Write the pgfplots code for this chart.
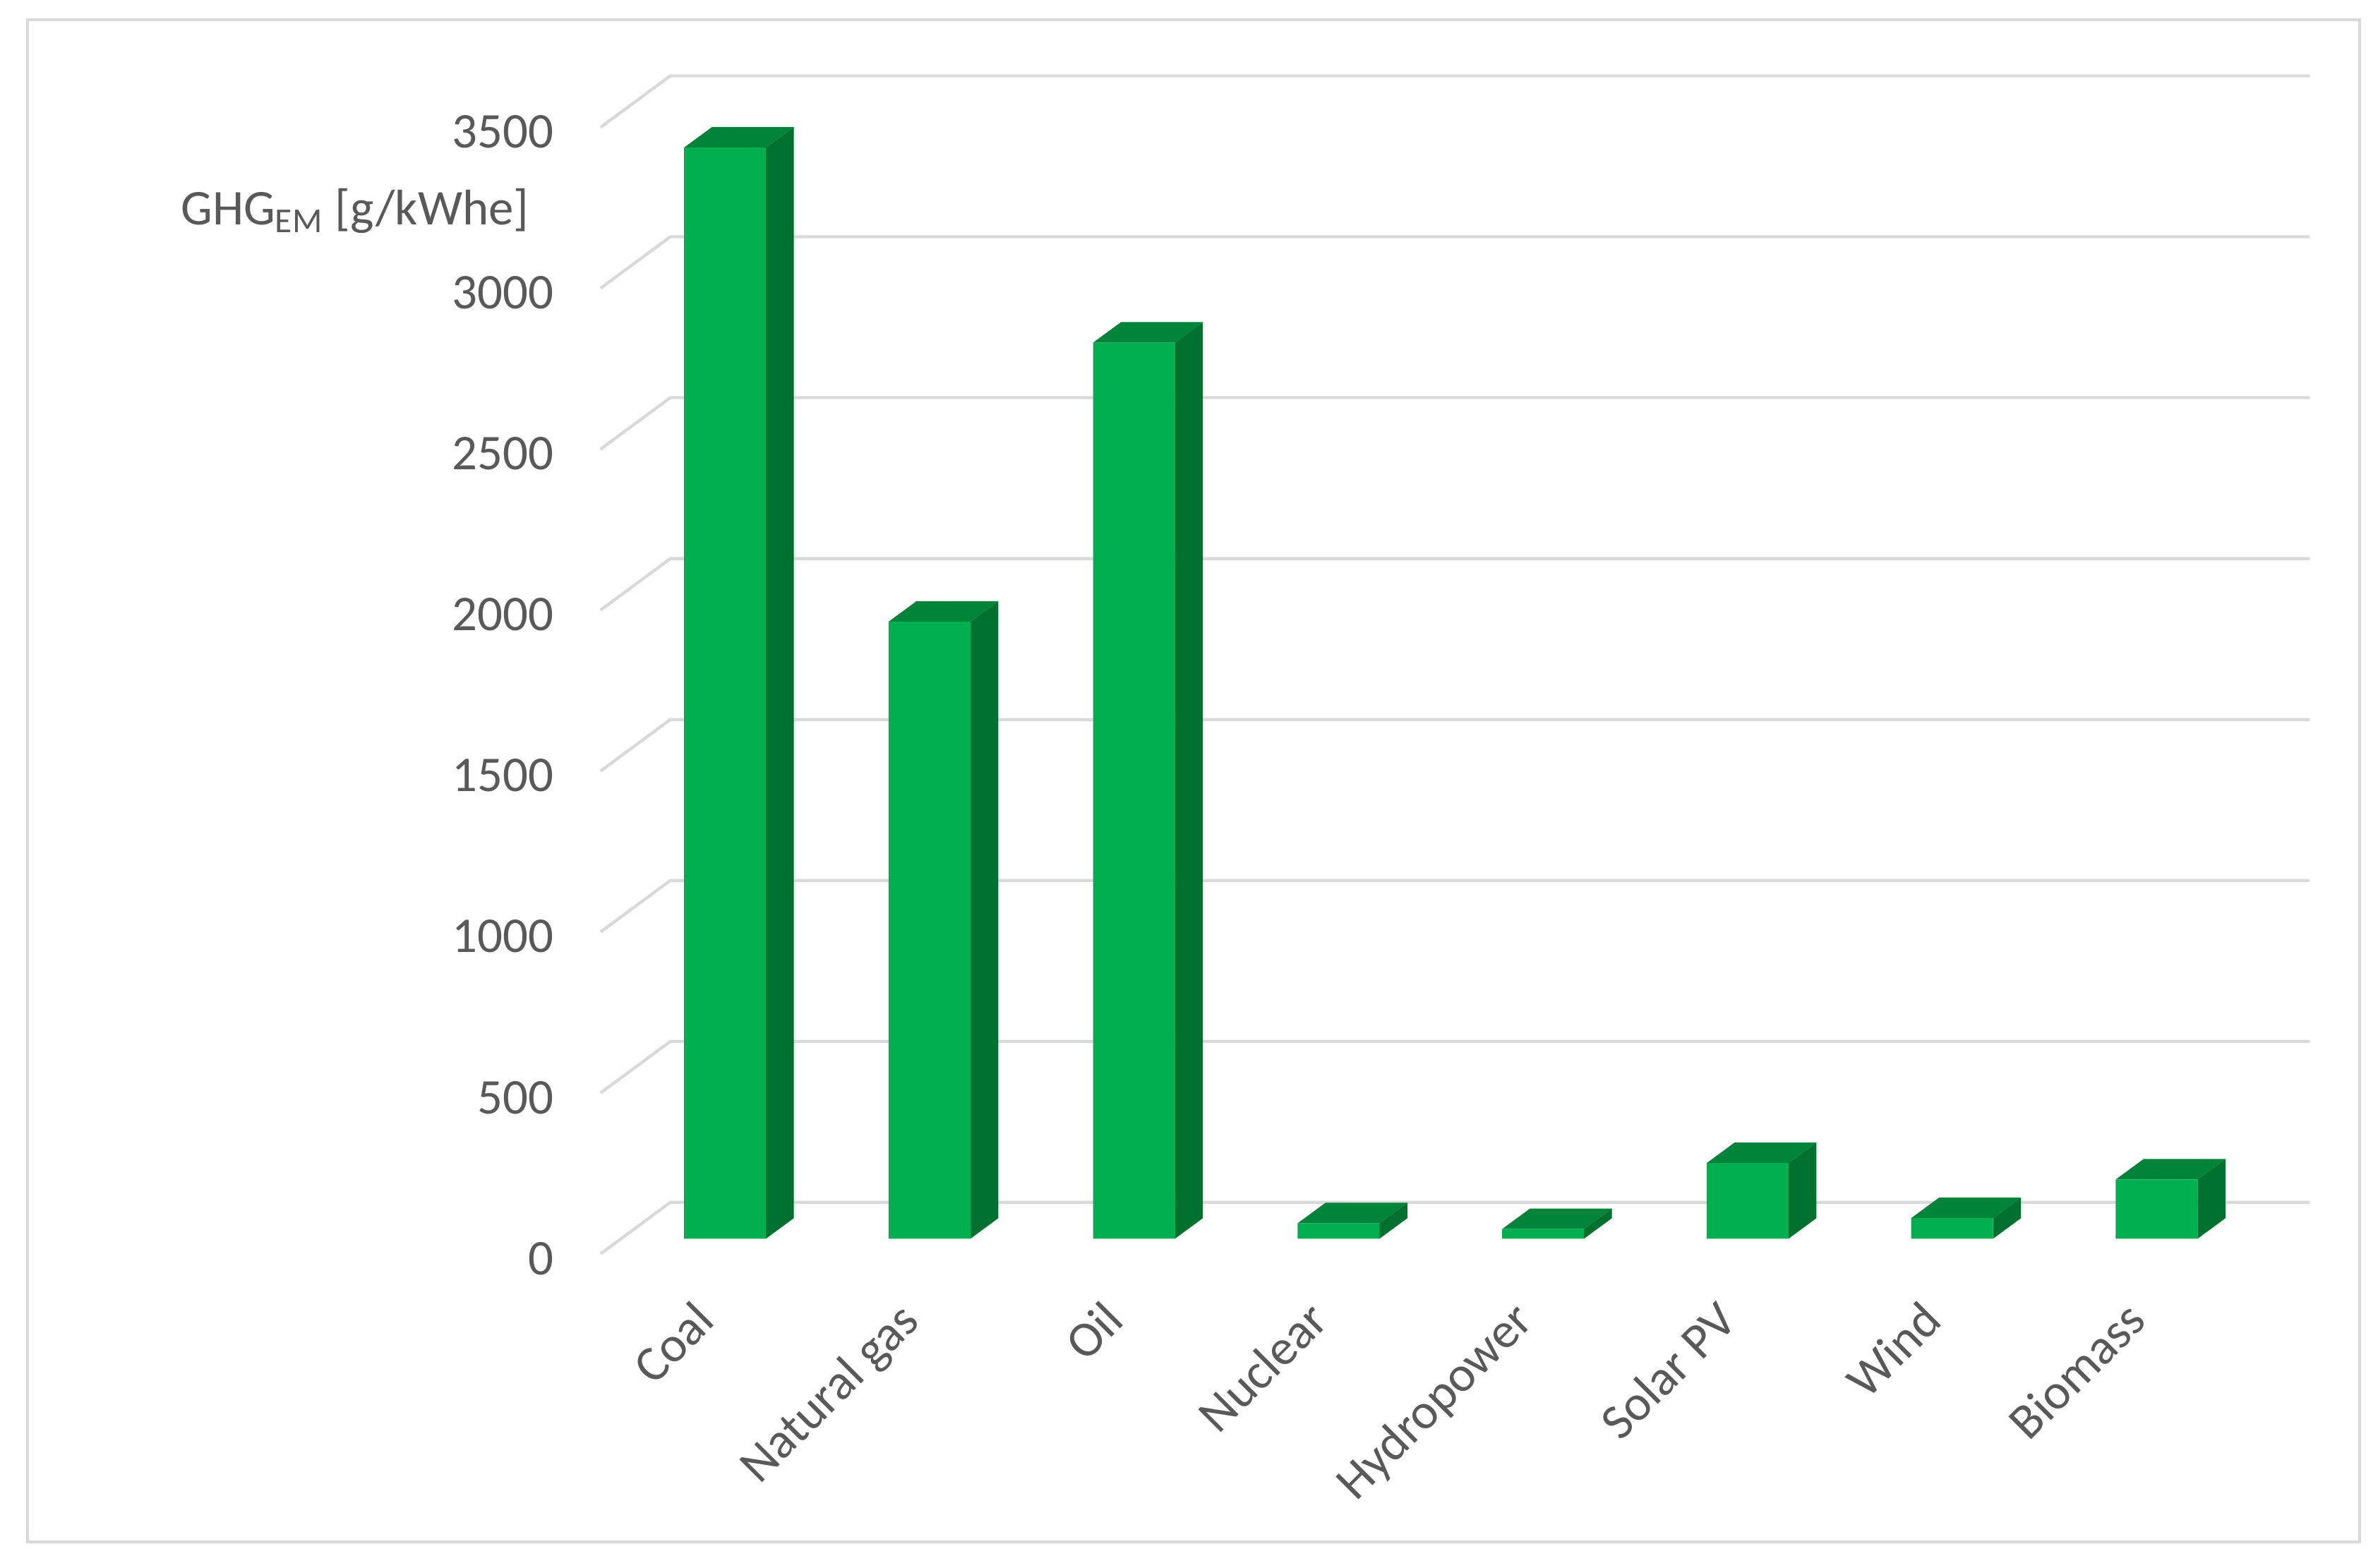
\documentclass[border=0pt]{standalone}
\usepackage{fontspec}
\setmainfont{Carlito}
\usepackage{pgfplots}
\pgfplotsset{compat=1.18}
\definecolor{frontc}{HTML}{00B050}
\definecolor{sidec}{HTML}{00702F}
\definecolor{topc}{HTML}{00843A}
\definecolor{gridc}{HTML}{D9D9D9}
\definecolor{txtc}{HTML}{595959}
\begin{document}
\begin{tikzpicture}[x=1pt,y=1pt]
\path[use as bounding box] (0,0) rectangle (784,517);
\draw[gridc,line width=1pt] (9,8.5) rectangle (778,510.5);
\begin{axis}[
  at={(198pt,108.5pt)},anchor=south west,
  scale only axis,width=563.5pt,height=371.5pt,
  xmin=-0.608,xmax=7.749,ymin=0,ymax=3500,
  clip=false,
  axis line style={draw=none},
  major tick length=0pt,
  ytick={0,500,1000,1500,2000,2500,3000,3500},
  xtick={0,1,2,3,4,5,6,7},
  xticklabels={Coal,Natural gas,Oil,Nuclear,Hydropower,Solar PV,Wind,Biomass},
  tick label style={font=\fontsize{16.5}{20}\selectfont,text=txtc},
  /pgf/number format/assume math mode=true,
  /pgf/number format/1000 sep={},
  yticklabel style={xshift=-12pt,yshift=-6.5pt},
  xticklabel style={rotate=45,anchor=north east,inner sep=0pt,xshift=-21.45pt,yshift=-6.2pt},
]
% grid: front end of the wall diagonal, back corner, right end
\addplot[gridc,line width=1pt] coordinates {(-0.608,-47) (-0.267,113) (7.749,113)};
\addplot[gridc,line width=1pt] coordinates {(-0.608,453) (-0.267,613) (7.749,613)};
\addplot[gridc,line width=1pt] coordinates {(-0.608,953) (-0.267,1113) (7.749,1113)};
\addplot[gridc,line width=1pt] coordinates {(-0.608,1453) (-0.267,1613) (7.749,1613)};
\addplot[gridc,line width=1pt] coordinates {(-0.608,1953) (-0.267,2113) (7.749,2113)};
\addplot[gridc,line width=1pt] coordinates {(-0.608,2453) (-0.267,2613) (7.749,2613)};
\addplot[gridc,line width=1pt] coordinates {(-0.608,2953) (-0.267,3113) (7.749,3113)};
\addplot[gridc,line width=1pt] coordinates {(-0.608,3453) (-0.267,3613) (7.749,3613)};
% side faces
\addplot[fill=sidec,draw=none] coordinates {(0.2,0) (0.337,64) (0.337,3454) (0.2,3390)};
\addplot[fill=sidec,draw=none] coordinates {(1.2,0) (1.337,64) (1.337,1981) (1.2,1917)};
\addplot[fill=sidec,draw=none] coordinates {(2.2,0) (2.337,64) (2.337,2848) (2.2,2784)};
\addplot[fill=sidec,draw=none] coordinates {(3.2,0) (3.337,64) (3.337,112) (3.2,48)};
\addplot[fill=sidec,draw=none] coordinates {(4.2,0) (4.337,64) (4.337,94) (4.2,30)};
\addplot[fill=sidec,draw=none] coordinates {(5.2,0) (5.337,64) (5.337,299) (5.2,235)};
\addplot[fill=sidec,draw=none] coordinates {(6.2,0) (6.337,64) (6.337,128) (6.2,64)};
\addplot[fill=sidec,draw=none] coordinates {(7.2,0) (7.337,64) (7.337,248) (7.2,184)};
% top faces
\addplot[fill=topc,draw=none] coordinates {(-0.2,3390) (-0.063,3454) (0.337,3454) (0.2,3390)};
\addplot[fill=topc,draw=none] coordinates {(0.8,1917) (0.937,1981) (1.337,1981) (1.2,1917)};
\addplot[fill=topc,draw=none] coordinates {(1.8,2784) (1.937,2848) (2.337,2848) (2.2,2784)};
\addplot[fill=topc,draw=none] coordinates {(2.8,48) (2.937,112) (3.337,112) (3.2,48)};
\addplot[fill=topc,draw=none] coordinates {(3.8,30) (3.937,94) (4.337,94) (4.2,30)};
\addplot[fill=topc,draw=none] coordinates {(4.8,235) (4.937,299) (5.337,299) (5.2,235)};
\addplot[fill=topc,draw=none] coordinates {(5.8,64) (5.937,128) (6.337,128) (6.2,64)};
\addplot[fill=topc,draw=none] coordinates {(6.8,184) (6.937,248) (7.337,248) (7.2,184)};
% front faces: the values
\addplot[ybar,bar width=27pt,bar shift=0pt,fill=frontc,draw=none] coordinates {
 (0,3390) (1,1917) (2,2784) (3,48) (4,30) (5,235) (6,64) (7,184)};
\node[text=txtc,font=\fontsize{16.5}{20}\selectfont,anchor=center] at (axis cs:-1.809,3194) {GHG\textsubscript{EM} [g/kWhe]};
\end{axis}
\end{tikzpicture}
\end{document}
